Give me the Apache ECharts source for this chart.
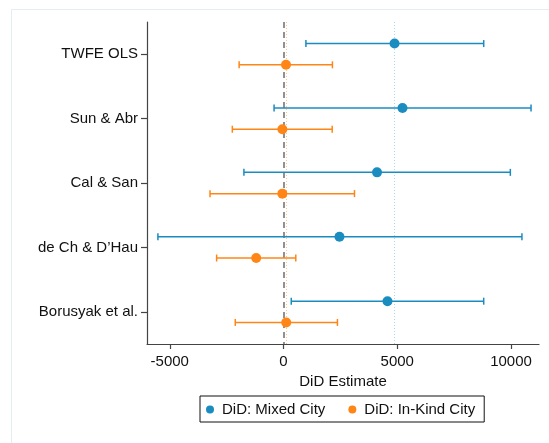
<!DOCTYPE html>
<html>
<head>
<meta charset="utf-8">
<script src="https://cdn.jsdelivr.net/npm/echarts@6/dist/echarts.min.js"></script>
<style>
html,body{margin:0;padding:0;background:#fff;}
#chart{width:549px;height:443px;}
</style>
</head>
<body>
<div id="chart"></div>
<script>
// ---- data ----
const categories = ['TWFE OLS', 'Sun & Abr', 'Cal & San', 'de Ch & D\u2019Hau', 'Borusyak et al.'];
const mixedEst = [4880, 5230, 4110, 2460, 4570];
const mixedLo  = [985, -415, -1740, -5520, 340];
const mixedHi  = [8800, 10880, 9970, 10480, 8800];
const inkindEst = [110, -50, -50, -1200, 120];
const inkindLo  = [-1950, -2250, -3230, -2940, -2120];
const inkindHi  = [2150, 2140, 3120, 540, 2370];
const xTicks = [-5000, 0, 5000, 10000];
const seriesNames = ['DiD: Mixed City', 'DiD: In-Kind City'];

const BLUE = '#1a8cc0';
const ORANGE = '#ff8616';
const FONT = 'Liberation Sans, Arial, sans-serif';
const FS = 15;
const OFF = 0.165;

function pts(est, off) { return est.map((v, i) => [v, i + 1 + off]); }
function bars(lo, hi, off) { return lo.map((v, i) => [v, hi[i], i + 1 + off]); }

function errRender(color) {
  return function (params, api) {
    const lo = api.coord([api.value(0), api.value(2)]);
    const hi = api.coord([api.value(1), api.value(2)]);
    const h = 3.5;
    const st = { stroke: color, lineWidth: 1.5 };
    return {
      type: 'group',
      children: [
        { type: 'line', shape: { x1: lo[0], y1: lo[1], x2: hi[0], y2: hi[1] }, style: st },
        { type: 'line', shape: { x1: lo[0], y1: lo[1] - h, x2: lo[0], y2: lo[1] + h }, style: st },
        { type: 'line', shape: { x1: hi[0], y1: hi[1] - h, x2: hi[0], y2: hi[1] + h }, style: st }
      ]
    };
  };
}

const chart = echarts.init(document.getElementById('chart'), null, { renderer: 'canvas' });
chart.setOption({
  animation: false,
  backgroundColor: '#fff',
  textStyle: { fontFamily: FONT },
  graphic: [{
    type: 'rect', left: 9, top: 7, silent: true,
    shape: { x: 0, y: 0, width: 600, height: 500 },
    style: { fill: 'none', stroke: '#e3eef0', lineWidth: 1 }
  }],
  grid: { left: 147, right: 10, top: 22, bottom: 99, containLabel: false },
  xAxis: {
    type: 'value', min: -6000, max: 11230,
    name: 'DiD Estimate', nameLocation: 'middle', nameGap: 27,
    nameTextStyle: { fontSize: FS, color: '#111', fontFamily: FONT },
    axisLine: { show: true, onZero: false, lineStyle: { color: '#444', width: 1.2 } },
    axisTick: { show: true, length: 5, customValues: xTicks, lineStyle: { color: '#444', width: 1.2 } },
    axisLabel: {
      customValues: xTicks, fontSize: FS, color: '#111', margin: 10, fontFamily: FONT,
      formatter: v => String(v)
    },
    splitLine: { show: false }
  },
  yAxis: {
    type: 'value', min: 0.5, max: 5.5, inverse: true,
    axisLine: { show: true, onZero: false, lineStyle: { color: '#444', width: 1.2 } },
    axisTick: { show: true, length: 6, customValues: [1, 2, 3, 4, 5], lineStyle: { color: '#444', width: 1.2 } },
    axisLabel: {
      customValues: [1, 2, 3, 4, 5], fontSize: FS, color: '#111', margin: 9, fontFamily: FONT,
      formatter: v => categories[Math.round(v) - 1] || ''
    },
    splitLine: { show: false }
  },
  legend: {
    data: seriesNames.map(n => ({ name: n, icon: 'circle' })),
    left: 200, top: 396,
    orient: 'horizontal',
    itemWidth: 8, itemHeight: 8, itemGap: 23,
    padding: [6, 9, 5, 6],
    borderColor: '#111', borderWidth: 1,
    textStyle: { fontSize: FS, color: '#111', fontFamily: FONT, padding: [0, 0, 0, 3] }
  },
  series: [
    {
      type: 'line', data: [], silent: true, z: 1,
      markLine: {
        silent: true, symbol: 'none', label: { show: false }, z: 1,
        data: [
          { xAxis: inkindEst[0], lineStyle: { color: '#ffc58e', type: [1, 2], width: 1 } },
          { xAxis: mixedEst[0], lineStyle: { color: '#a9d9ee', type: [1, 2], width: 1 } },
          { xAxis: 0, lineStyle: { color: '#6e6e6e', type: [6, 4], width: 1.5 } }
        ]
      }
    },
    {
      name: 'mixedCI', type: 'custom', renderItem: errRender(BLUE),
      encode: { x: [0, 1], y: 2 }, data: bars(mixedLo, mixedHi, -OFF), z: 3
    },
    {
      name: 'inkindCI', type: 'custom', renderItem: errRender(ORANGE),
      encode: { x: [0, 1], y: 2 }, data: bars(inkindLo, inkindHi, OFF), z: 3
    },
    {
      name: seriesNames[0], type: 'scatter', symbol: 'circle', symbolSize: 10,
      itemStyle: { color: BLUE, opacity: 1 }, data: pts(mixedEst, -OFF), z: 6
    },
    {
      name: seriesNames[1], type: 'scatter', symbol: 'circle', symbolSize: 10,
      itemStyle: { color: ORANGE, opacity: 1 }, data: pts(inkindEst, OFF), z: 6
    }
  ]
});
</script>
</body>
</html>
